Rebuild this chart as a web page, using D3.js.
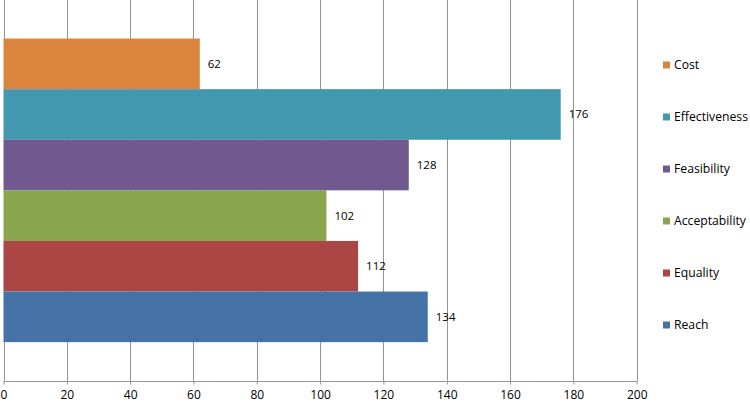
<!DOCTYPE html>
<html>
<head>
<meta charset="utf-8">
<script src="https://cdn.jsdelivr.net/npm/d3@7"></script>
<style>
  body { margin: 0; background: #fff; }
  svg { display: block; font-family: "Open Sans", sans-serif; }
</style>
</head>
<body>
<script>
const series = ["Cost", "Effectiveness", "Feasibility", "Acceptability", "Equality", "Reach"];
const values = [62, 176, 128, 102, 112, 134];
const colors = ["#DB843D", "#4198AF", "#71588F", "#89A54E", "#AA4643", "#4572A7"];
const xTicks = [0, 20, 40, 60, 80, 100, 120, 140, 160, 180, 200];

const w = 750;
const h = 402;
const plotLeft = 3.5;
const plotRight = 636.7;
const plotTop = 0;
const plotBottom = 380.7;

const svg = d3.select("body")
  .append("svg")
  .attr("width", w)
  .attr("height", h);

const xScale = d3.scaleLinear()
  .domain([0, 200])
  .range([plotLeft, plotRight]);

const yScale = d3.scaleBand()
  .domain(series)
  .range([plotTop, plotBottom])
  .paddingInner(0)
  .paddingOuter(0.762);

// grid lines
svg.append("g")
  .selectAll("line")
  .data(xTicks)
  .enter()
  .append("line")
  .attr("x1", d => Math.round(xScale(d)) + 0.5)
  .attr("x2", d => Math.round(xScale(d)) + 0.5)
  .attr("y1", plotTop)
  .attr("y2", plotBottom)
  .attr("stroke", "#939393")
  .attr("stroke-width", 1);

// bars
svg.append("g")
  .selectAll("rect")
  .data(series)
  .enter()
  .append("rect")
  .attr("x", xScale(0))
  .attr("y", d => yScale(d))
  .attr("width", (d, i) => xScale(values[i]) - xScale(0))
  .attr("height", yScale.bandwidth())
  .attr("fill", (d, i) => colors[i]);

// value labels
svg.append("g")
  .selectAll("text")
  .data(series)
  .enter()
  .append("text")
  .attr("x", (d, i) => xScale(values[i]) + 8)
  .attr("y", d => yScale(d) + yScale.bandwidth() / 2)
  .attr("dy", "0.35em")
  .style("font-size", "11.5px")
  .style("fill", "#000")
  .text((d, i) => values[i]);

// x axis
const xAxis = d3.axisBottom(xScale)
  .tickValues(xTicks)
  .tickSize(3)
  .tickPadding(6);

const axisG = svg.append("g")
  .attr("transform", "translate(0," + (Math.round(plotBottom) + 0.5) + ")")
  .call(xAxis);

axisG.select(".domain").attr("stroke", "#939393").attr("d", "M" + plotLeft + ",0H" + (plotRight + 1));
axisG.selectAll(".tick line").attr("stroke", "#939393");
axisG.selectAll(".tick text")
  .style("font-size", "12px")
  .style("font-family", "Open Sans, sans-serif")
  .style("fill", "#000");

// legend
const legend = svg.append("g")
  .attr("transform", "translate(663,0)");

const item = legend.selectAll("g")
  .data(series)
  .enter()
  .append("g")
  .attr("transform", (d, i) => "translate(0," + (65 + i * 52) + ")");

item.append("rect")
  .attr("x", 0)
  .attr("y", -3.5)
  .attr("width", 7)
  .attr("height", 7)
  .attr("fill", (d, i) => colors[i]);

item.append("text")
  .attr("x", 11)
  .attr("y", 0)
  .attr("dy", "0.35em")
  .style("font-size", "12.2px")
  .style("fill", "#000")
  .text(d => d);
</script>
</body>
</html>
